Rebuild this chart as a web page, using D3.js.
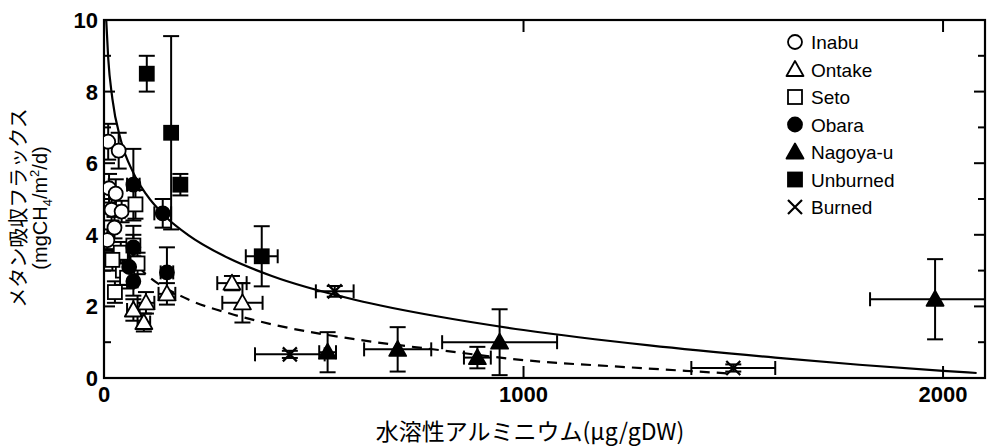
<!DOCTYPE html>
<html><head><meta charset="utf-8">
<script src="https://cdn.jsdelivr.net/npm/d3@7"></script>
<style>body{margin:0;background:#fff}svg{display:block}</style>
</head><body><svg id="c" width="987" height="447"></svg>
<script>
// ---- data: [x, y, xErr, yErr]
const inabu = [[10,6.6,5,0.5],[35,6.35,8,0.5],[12,5.3,5,0.4],[28,5.15,6,0.4],[18,4.7,5,0.3],[42,4.65,8,0.3],[25,4.2,5,0.3],[8,3.85,4,0.3]];
const ontake = [[305,2.65,35,0.2],[330,2.1,48,0.55],[100,2.1,20,0.3],[95,1.55,15,0.25],[150,2.35,20,0.3],[70,1.9,15,0.3]];
const seto = [[26,2.4,8,0.3],[45,3.0,10,0.4],[40,3.5,10,0.3],[70,3.7,10,0.3],[75,4.85,12,0.4],[20,3.3,6,0.3],[55,2.8,10,0.3],[80,3.2,12,0.3]];
const obara = [[70,5.4,15,1.0],[140,4.6,20,0.4],[150,2.95,15,0.7],[70,3.65,15,0.6],[70,2.7,10,0.4],[60,3.1,12,0.5]];
const nagoya = [[533,0.72,20,0.56],[700,0.8,80,0.62],[890,0.57,32,0.3],[943,1.0,137,0.92],[1981,2.2,155,1.12]];
const unburned = [[102,8.5,0,0.5],[160,6.85,0,2.7],[182,5.4,10,0.3],[376,3.4,38,0.84]];
const burned = [[550,2.42,45,0.15],[443,0.66,83,0.1],[1500,0.28,100,0.1]];
// fitted curves
const solidX = [5.3,10,20,40,70,100,150,200,300,400,600,800,1000,1300,1600,1800,2000,2080];
const solidY = [10,8.94,7.8,6.65,5.73,5.14,4.47,4.0,3.33,2.85,2.18,1.71,1.34,0.91,0.57,0.37,0.2,0.14];
const dashX = [55,100,200,300,400,600,800,1000,1250,1500];
const dashY = [3.45,2.9,2.2,1.8,1.5,1.08,0.78,0.5,0.3,0.12];
const xTicks = [0,1000,2000];
const yTicks = [0,2,4,6,8,10];
const yMinor = [1,3,5,7,9];
const legendNames = ["Inabu","Ontake","Seto","Obara","Nagoya-u","Unburned","Burned"];

const svg = d3.select("#c");
const L=104,R=985,T=20,B=378;
const x = d3.scaleLinear().domain([0,2100]).range([L,R]);
const y = d3.scaleLinear().domain([0,10]).range([B,T]);

svg.append("defs").append("clipPath").attr("id","cp").append("rect")
  .attr("x",L).attr("y",T).attr("width",R-L).attr("height",B-T);

// frame
svg.append("rect").attr("x",L).attr("y",T).attr("width",R-L).attr("height",B-T)
  .attr("fill","none").attr("stroke","#000").attr("stroke-width",2.2);

// ticks (inward) on all sides
const tk = svg.append("g").attr("stroke","#000").attr("stroke-width",2);
yTicks.forEach(v=>{ tk.append("line").attr("x1",L).attr("x2",L+11).attr("y1",y(v)).attr("y2",y(v));
  tk.append("line").attr("x1",R).attr("x2",R-11).attr("y1",y(v)).attr("y2",y(v)); });
yMinor.forEach(v=>{ tk.append("line").attr("x1",L).attr("x2",L+7).attr("y1",y(v)).attr("y2",y(v));
  tk.append("line").attr("x1",R).attr("x2",R-7).attr("y1",y(v)).attr("y2",y(v)); });
xTicks.forEach(v=>{ tk.append("line").attr("x1",x(v)).attr("x2",x(v)).attr("y1",B).attr("y2",B-12);
  tk.append("line").attr("x1",x(v)).attr("x2",x(v)).attr("y1",T).attr("y2",T+12); });

// tick labels
const lab = {"font-family":"'Liberation Sans',Arial,sans-serif","font-weight":"bold","font-size":"22px"};
yTicks.forEach(v=>{ const t=svg.append("text").attr("x",L-6).attr("y",y(v)+8).attr("text-anchor","end").text(v);
  Object.entries(lab).forEach(([k,val])=>t.attr(k,val)); });
xTicks.forEach(v=>{ const t=svg.append("text").attr("x",x(v)).attr("y",B+24).attr("text-anchor","middle").text(v);
  Object.entries(lab).forEach(([k,val])=>t.attr(k,val)); });

// axis titles
svg.append("text").attr("transform","translate(26,208) rotate(-90)").attr("text-anchor","middle")
  .attr("font-family","'Noto Sans CJK JP',sans-serif").attr("font-size","20px").text("メタン吸収フラックス");
const yl2 = svg.append("text").attr("transform","translate(47,208) rotate(-90)").attr("text-anchor","middle")
  .attr("font-family","'Liberation Sans',Arial,sans-serif").attr("font-size","20px");
yl2.append("tspan").text("(mgCH");
yl2.append("tspan").attr("font-size","13px").attr("dy",5).text("4");
yl2.append("tspan").attr("dy",-5).text("/m");
yl2.append("tspan").attr("font-size","13px").attr("dy",-8).text("2");
yl2.append("tspan").attr("dy",8).text("/d)");
svg.append("text").attr("x",530).attr("y",440).attr("text-anchor","middle")
  .attr("font-family","'Noto Sans CJK JP',sans-serif").attr("font-size","23px").text("水溶性アルミニウム(μg/gDW)");

// curves
const plot = svg.append("g").attr("clip-path","url(#cp)");
const line = d3.line().x(d=>x(d[0])).y(d=>y(d[1])).curve(d3.curveMonotoneX);
plot.append("path").attr("d",line(d3.zip(solidX,solidY))).attr("fill","none").attr("stroke","#000").attr("stroke-width",2.2);
plot.append("path").attr("d",line(d3.zip(dashX,dashY))).attr("fill","none").attr("stroke","#000").attr("stroke-width",2.2).attr("stroke-dasharray","10,7");

// error bars
const series = [
  {d:inabu,shape:"circle",fill:"#fff"},{d:ontake,shape:"triangle",fill:"#fff"},{d:seto,shape:"square",fill:"#fff"},
  {d:obara,shape:"circle",fill:"#000"},{d:nagoya,shape:"triangle",fill:"#000"},{d:unburned,shape:"square",fill:"#000"},
  {d:burned,shape:"cross",fill:"none"}];
const eb = plot.append("g").attr("stroke","#000").attr("stroke-width",2);
series.forEach(s=>s.d.forEach(p=>{
  const cx=x(p[0]), cy=y(p[1]);
  if(p[3]>0){ const y1=y(p[1]+p[3]), y2=y(p[1]-p[3]);
    eb.append("line").attr("x1",cx).attr("x2",cx).attr("y1",y1).attr("y2",y2);
    eb.append("line").attr("x1",cx-8).attr("x2",cx+8).attr("y1",y1).attr("y2",y1);
    eb.append("line").attr("x1",cx-8).attr("x2",cx+8).attr("y1",y2).attr("y2",y2); }
  if(p[2]>0){ const x1=x(p[0]-p[2]), x2=x(p[0]+p[2]);
    eb.append("line").attr("x1",x1).attr("x2",x2).attr("y1",cy).attr("y2",cy);
    eb.append("line").attr("x1",x1).attr("x2",x1).attr("y1",cy-7).attr("y2",cy+7);
    eb.append("line").attr("x1",x2).attr("x2",x2).attr("y1",cy-7).attr("y2",cy+7); }
}));

function marker(g,shape,fill,cx,cy){
  if(shape==="circle") g.append("circle").attr("cx",cx).attr("cy",cy).attr("r",7).attr("fill",fill).attr("stroke","#000").attr("stroke-width",1.8);
  else if(shape==="square") g.append("rect").attr("x",cx-7).attr("y",cy-7).attr("width",14).attr("height",14).attr("fill",fill).attr("stroke","#000").attr("stroke-width",1.8);
  else if(shape==="triangle") g.append("path").attr("d",`M${cx},${cy-8.5}L${cx+8.5},${cy+6.5}L${cx-8.5},${cy+6.5}Z`).attr("fill",fill).attr("stroke","#000").attr("stroke-width",1.8).attr("stroke-linejoin","round");
  else { g.append("path").attr("d",`M${cx-7},${cy-7}L${cx+7},${cy+7}M${cx-7},${cy+7}L${cx+7},${cy-7}`).attr("stroke","#000").attr("stroke-width",2.2); }
}
const mk = plot.append("g");
series.forEach(s=>s.d.forEach(p=>marker(mk,s.shape,s.fill,x(p[0]),y(p[1]))));

// legend
const lg = svg.append("g");
series.forEach((s,i)=>{
  const ly = 42 + i*27.5;
  marker(lg,s.shape,s.fill,795,ly);
  lg.append("text").attr("x",811).attr("y",ly+7).attr("font-family","'Liberation Sans',Arial,sans-serif")
    .attr("font-size","19px").text(legendNames[i]);
});
</script></body></html>
